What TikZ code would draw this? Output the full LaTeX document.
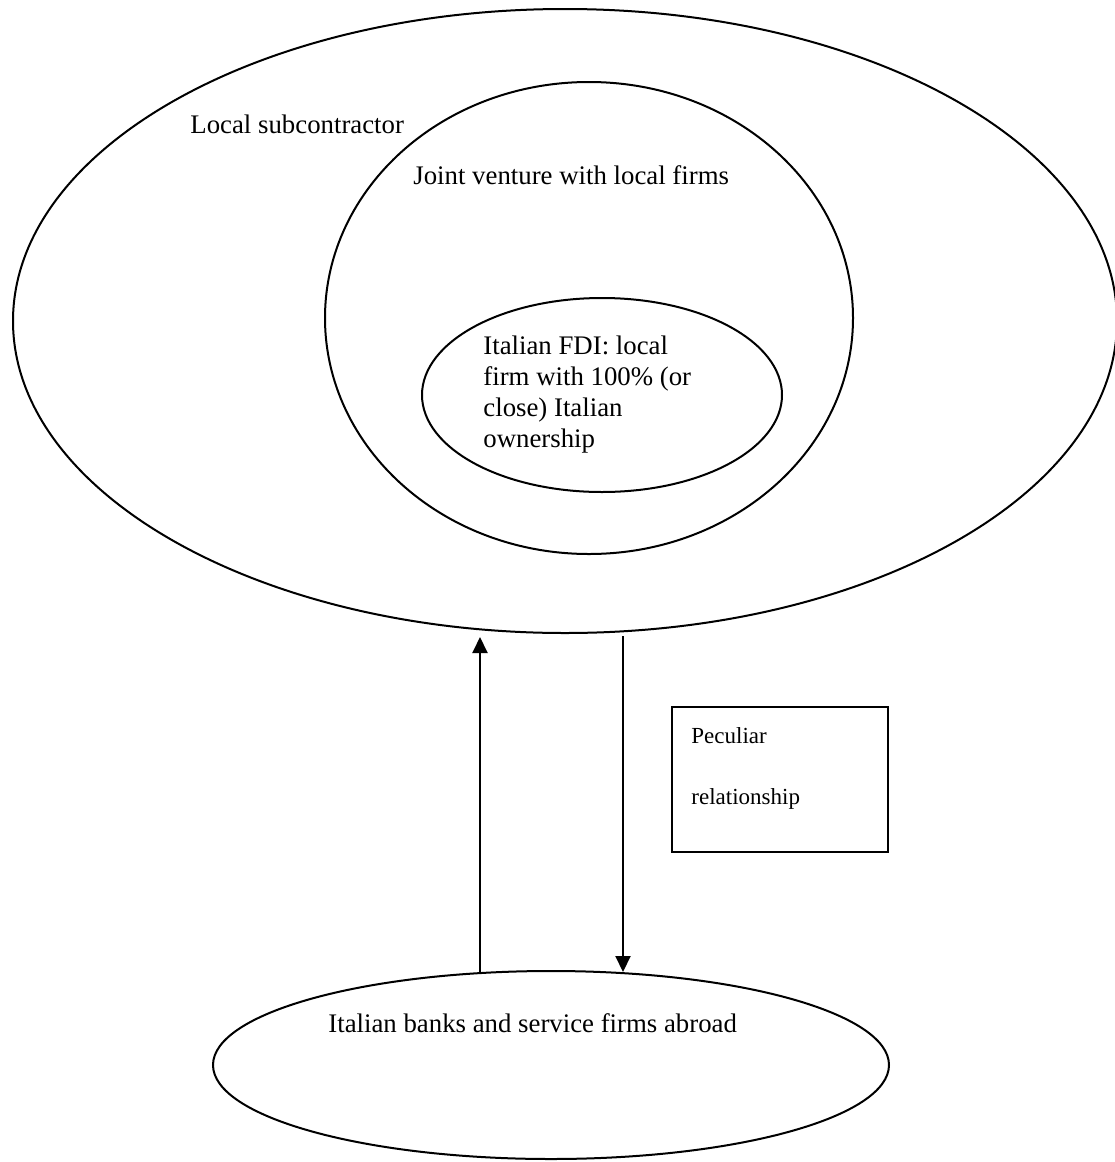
\documentclass[tikz,border=0pt]{standalone}
\usepackage{fontspec}
\setmainfont{Liberation Serif}
\usetikzlibrary{shapes.geometric,positioning,arrows.meta}

\begin{document}
\begin{tikzpicture}[x=0.5pt,y=-0.5pt]
    \tikzstyle{ring} = [
      draw=black,
      line width=1pt,
      ellipse,
      inner sep=0pt,
    ]
    \tikzstyle{label} = [
      anchor=base west,
      inner sep=0pt,
      font=\fontsize{13.4}{15.5}\selectfont,
      align=left,
    ]
    \tikzstyle{smalllabel} = [
      label,
      font=\fontsize{11.5}{12.9}\selectfont,
    ]
    \tikzstyle{box} = [
      draw=black,
      line width=1pt,
      minimum width=108pt,
      minimum height=72.5pt,
      inner sep=0pt,
    ]
    \tikzstyle{arrow} = [
      line width=1pt,
      -{Triangle[length=8pt,width=7.5pt]},
      draw=black,
    ]

    \useasboundingbox (0,0) rectangle (1114,1162);

    % rings
    {
      \node[ring, minimum width=552pt, minimum height=312pt] (subcontractor) at (565,321) {};
      \node[ring, minimum width=264pt, minimum height=236pt] (venture) at (589,318) {};
      \node[ring, minimum width=180pt, minimum height=97pt] (fdi) at (602,395) {};
      \node[ring, minimum width=338pt, minimum height=94pt] (banks) at (551,1065) {};
    }

    % texts
    {
      \node[label] (subcontractorText) at (190,133) {Local subcontractor};
      \node[label] (ventureText) at (413,184) {Joint venture with local firms};
      \node[label] (fdiText) at (483,447) {Italian FDI: local\\firm with 100\% (or\\close) Italian\\ownership};
      \node[label] (banksText) at (328,1032) {Italian banks and service firms abroad};
    }

    % peculiar relationship
    {
      \node[box] (peculiar) at (780,779.5) {};
      \node[smalllabel] (peculiarI) at (691,743) {Peculiar};
      \node[smalllabel] (peculiarII) at (691,804) {relationship};
    }

    % arrows
    {
      \coordinate (upFoot) at (480,973);
      \coordinate (upTip) at (480,637);
      \coordinate (downFoot) at (623,636);
      \coordinate (downTip) at (623,972);
      \draw[arrow] (upFoot) -- (upTip);
      \draw[arrow] (downFoot) -- (downTip);
    }
\end{tikzpicture}
\end{document}
